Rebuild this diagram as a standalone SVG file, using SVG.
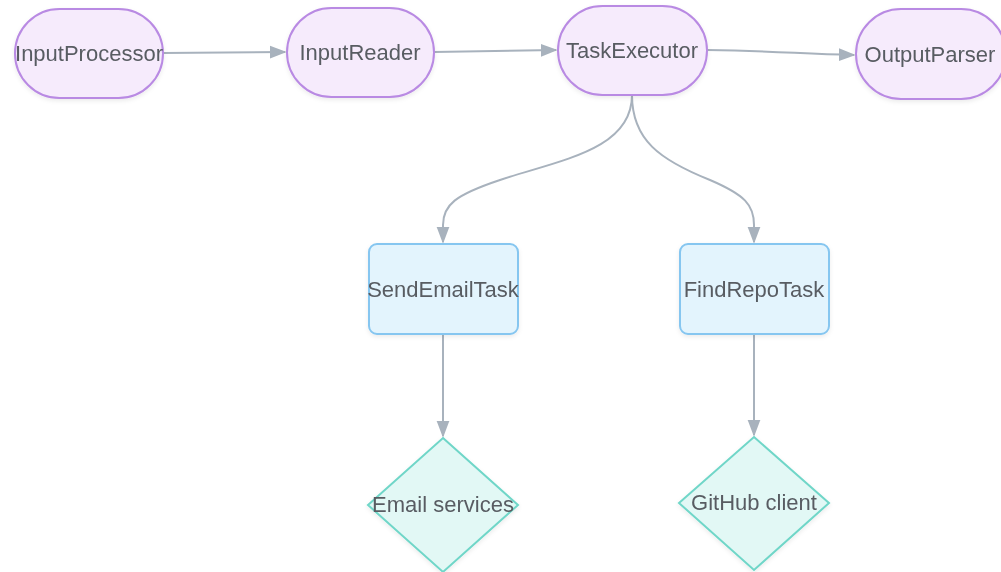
<svg xmlns="http://www.w3.org/2000/svg" width="1001" height="572" viewBox="0 0 1001 572">
<style>
.lbl{font-family:"Liberation Sans",Arial,sans-serif;font-size:22px;fill:#585c62;text-anchor:middle;dominant-baseline:central}
.term{fill:#f6ebfc;stroke:#b98ae3;stroke-width:2}
.task{fill:#e3f4fd;stroke:#86c6f0;stroke-width:2}
.ext{fill:#e2f8f5;stroke:#6fd6c8;stroke-width:2}
.edge{fill:none;stroke:#a8b2bd;stroke-width:2}
</style>
<defs>
<marker id="arrh" viewBox="0 0 10 10" refX="9" refY="5" markerWidth="17" markerHeight="17" markerUnits="userSpaceOnUse" orient="auto">
<path d="M0,1.2 L10,5 L0,8.8 z" fill="#a8b2bd"/>
</marker>
<filter id="sh" x="-20%" y="-20%" width="140%" height="150%">
<feDropShadow dx="0" dy="2" stdDeviation="2" flood-color="#000" flood-opacity="0.08"/>
</filter>
</defs>
<g id="connectors">
<path class="edge" d="M163,53 L285,52" marker-end="url(#arrh)"/>
<path class="edge" d="M434,52 L556,50" marker-end="url(#arrh)"/>
<path class="edge" d="M707,50 C780,51 800,54 854,55" marker-end="url(#arrh)"/>
<path class="edge" d="M632,95 C632,150 560,160 500,180 C455,195 443,205 443,225 L443,242" marker-end="url(#arrh)"/>
<path class="edge" d="M632,95 C632,140 660,160 710,180 C745,195 754,205 754,225 L754,242" marker-end="url(#arrh)"/>
<path class="edge" d="M443,334 L443,436" marker-end="url(#arrh)"/>
<path class="edge" d="M754,334 L754,435" marker-end="url(#arrh)"/>
</g>
<g id="InputProcessor" filter="url(#sh)">
<rect class="term" x="15" y="9" width="148" height="89" rx="44.5"/>
<text class="lbl" x="89" y="53">InputProcessor</text>
</g>
<g id="InputReader" filter="url(#sh)">
<rect class="term" x="287" y="8" width="147" height="89" rx="44.5"/>
<text class="lbl" x="360" y="52">InputReader</text>
</g>
<g id="TaskExecutor" filter="url(#sh)">
<rect class="term" x="558" y="6" width="149" height="89" rx="44.5"/>
<text class="lbl" x="632" y="50">TaskExecutor</text>
</g>
<g id="OutputParser" filter="url(#sh)">
<rect class="term" x="856" y="9" width="150" height="90" rx="45"/>
<text class="lbl" x="930" y="54">OutputParser</text>
</g>
<g id="SendEmailTask" filter="url(#sh)">
<rect class="task" x="369" y="244" width="149" height="90" rx="8"/>
<text class="lbl" x="443" y="289">SendEmailTask</text>
</g>
<g id="FindRepoTask" filter="url(#sh)">
<rect class="task" x="680" y="244" width="149" height="90" rx="8"/>
<text class="lbl" x="754" y="289">FindRepoTask</text>
</g>
<g id="EmailServices" filter="url(#sh)">
<polygon class="ext" points="443,438 518,505 443,572 368,505"/>
<text class="lbl" x="443" y="504">Email services</text>
</g>
<g id="GitHubClient" filter="url(#sh)">
<polygon class="ext" points="754,437 829,503 754,570 679,503"/>
<text class="lbl" x="754" y="502">GitHub client</text>
</g>
</svg>
